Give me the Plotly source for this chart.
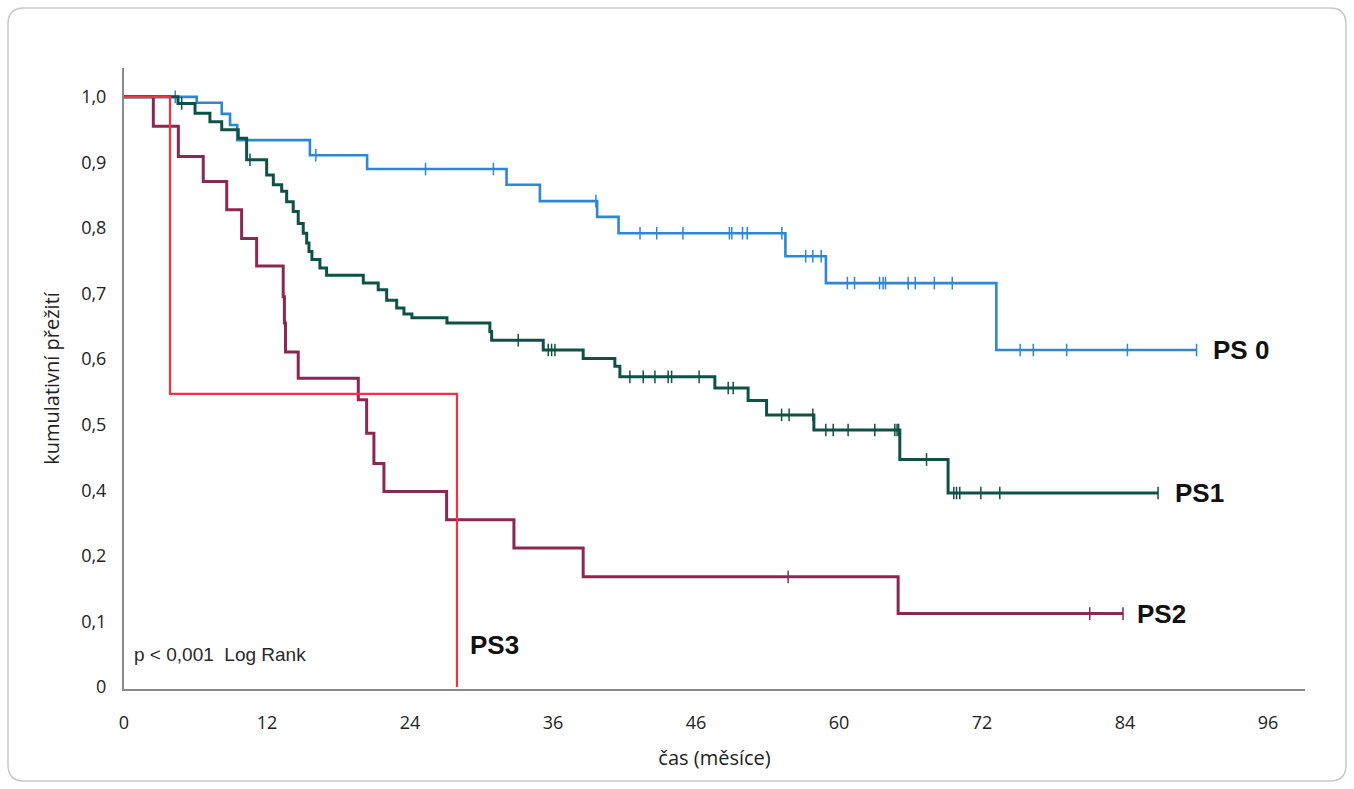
import numpy as np
import plotly.graph_objects as go

# ---------------- axis labels (as printed in the source) ----------------
x_tickvals = [0, 12, 24, 36, 48, 60, 72, 84, 96]
x_ticktext = ["0", "12", "24", "36", "46", "60", "72", "84", "96"]
y_tickvals = [0, 0.1, 0.2, 0.3, 0.4, 0.5, 0.6, 0.7, 0.8, 0.9]
y_ticktext = ["0", "0,1", "0,2", "0,4", "0,5", "0,6", "0,7", "0,8", "0,9", "1,0"]

# ---------------- Kaplan-Meier data (months, axis position) ----------------
start_value = 0.9

ps0_times = [6.1, 8.2, 8.9, 9.5, 15.6, 20.4, 32.1, 34.9, 39.7, 41.5, 55.5, 58.9, 73.2]
ps0_surv = [0.891, 0.874, 0.857, 0.834, 0.811, 0.790, 0.766, 0.741, 0.717, 0.692, 0.657, 0.616, 0.514]
ps0_censored = [4.3, 16.1, 25.3, 31.0, 39.6, 43.3, 44.7, 46.9, 50.8, 51.0, 51.9, 52.3, 55.2, 57.2,
                57.8, 58.5, 60.7, 61.3, 63.4, 63.7, 63.9, 65.8, 66.4, 68.0, 69.5, 75.2, 76.3, 79.1,
                84.2, 90.0]
ps0_end = 90.0

ps1_times = [4.53, 5.96, 7.21, 8.20, 9.59, 10.29, 11.97, 12.53, 13.23, 13.65, 14.20, 14.62, 15.04,
             15.33, 15.52, 15.77, 16.44, 17.00, 20.08, 21.33, 22.04, 22.88, 23.49, 24.16, 27.10,
             30.70, 30.85, 35.18, 38.53, 41.19, 41.61, 49.58, 52.37, 53.92, 57.89, 65.10, 69.15]
ps1_surv = [0.890, 0.875, 0.862, 0.850, 0.837, 0.804, 0.781, 0.766, 0.756, 0.740, 0.725, 0.707,
            0.692, 0.677, 0.664, 0.652, 0.639, 0.628, 0.616, 0.606, 0.590, 0.578, 0.569, 0.563,
            0.555, 0.542, 0.529, 0.514, 0.501, 0.489, 0.473, 0.456, 0.437, 0.415, 0.392, 0.347,
            0.296]
ps1_censored = [4.84, 10.57, 33.08, 35.6, 35.88, 36.16, 42.45, 43.57, 44.55, 45.66, 45.95, 48.26,
                50.70, 51.12, 55.18, 55.81, 57.8, 58.89, 59.51, 60.76, 63.0, 64.68, 64.87, 65.0,
                67.34, 69.63, 69.86, 70.13, 71.90, 73.49, 86.77]
ps1_end = 86.77

ps2_times = [2.46, 4.56, 6.65, 8.62, 9.87, 11.13, 13.36, 13.46, 13.55, 14.62, 19.66, 20.36, 20.97,
             21.81, 27.07, 32.72, 38.53, 64.96]
ps2_surv = [0.855, 0.809, 0.771, 0.728, 0.684, 0.642, 0.595, 0.555, 0.511, 0.471, 0.438, 0.387,
            0.341, 0.298, 0.255, 0.212, 0.168, 0.112]
ps2_censored = [55.73, 81.04, 83.83]
ps2_end = 83.83

ps3_times = [3.86, 27.94]
ps3_surv = [0.447, 0.0]
ps3_censored = []
ps3_end = 27.94

groups = [
    ("PS 0", ps0_times, ps0_surv, ps0_censored, ps0_end, "#2d87d3", 2.6),
    ("PS1", ps1_times, ps1_surv, ps1_censored, ps1_end, "#0e5247", 3.0),
    ("PS2", ps2_times, ps2_surv, ps2_censored, ps2_end, "#8c2754", 3.0),
    ("PS3", ps3_times, ps3_surv, ps3_censored, ps3_end, "#f2333f", 2.2),
]

fig = go.Figure()
for name, t, s, cens, end, color, w in groups:
    xs = [0] + list(t) + [end]
    ys = [start_value] + list(s) + [s[-1]]
    fig.add_trace(go.Scatter(x=xs, y=ys, mode="lines", line=dict(color=color, width=w, shape="hv"),
                             name=name, showlegend=False, hoverinfo="skip"))
    if cens:
        idx = np.searchsorted(np.array(t), np.array(cens), side="right")
        vals = np.concatenate([[start_value], np.array(s)])[idx]
        fig.add_trace(go.Scatter(x=cens, y=vals, mode="markers",
                                 marker=dict(symbol="line-ns", size=9,
                                             line=dict(color=color, width=1.5)),
                                 showlegend=False, hoverinfo="skip"))

label_font = dict(family="Liberation Sans, Arial, sans-serif", size=26, color="#111111")
fig.add_annotation(x=91.2, y=ps0_surv[-1], text="<b>PS 0</b>", showarrow=False, xanchor="left",
                   yanchor="middle", font=label_font)
fig.add_annotation(x=88.0, y=ps1_surv[-1], text="<b>PS1</b>", showarrow=False, xanchor="left",
                   yanchor="middle", font=label_font)
fig.add_annotation(x=84.8, y=ps2_surv[-1], text="<b>PS2</b>", showarrow=False, xanchor="left",
                   yanchor="middle", font=label_font)
fig.add_annotation(x=28.9, y=0.064, text="<b>PS3</b>", showarrow=False, xanchor="left",
                   yanchor="middle", font=label_font)
fig.add_annotation(x=0.7, y=0.049, text="p &lt; 0,001&nbsp;&nbsp;Log Rank", showarrow=False,
                   xanchor="left", yanchor="middle",
                   font=dict(family="Liberation Sans, Arial, sans-serif", size=19, color="#2a2a2a"))

# rounded outer frame (decoration), defined in pixels then converted to paper units
L, R, T, B = 124, 1305, 68, 689
def px(x):
    return (x - L) / (R - L)
def py(y):
    return (B - y) / (B - T)
fx0, fx1, fy0, fy1, rad = 8, 1346, 8, 781, 16
path = (f"M {px(fx0 + rad)},{py(fy0)} L {px(fx1 - rad)},{py(fy0)} "
        f"Q {px(fx1)},{py(fy0)} {px(fx1)},{py(fy0 + rad)} L {px(fx1)},{py(fy1 - rad)} "
        f"Q {px(fx1)},{py(fy1)} {px(fx1 - rad)},{py(fy1)} L {px(fx0 + rad)},{py(fy1)} "
        f"Q {px(fx0)},{py(fy1)} {px(fx0)},{py(fy1 - rad)} L {px(fx0)},{py(fy0 + rad)} "
        f"Q {px(fx0)},{py(fy0)} {px(fx0 + rad)},{py(fy0)} Z")
fig.add_shape(type="path", path=path, xref="paper", yref="paper",
              line=dict(color="#c9c9c9", width=1.5), layer="below")

tick_font = dict(family="Open Sans, sans-serif", size=18, color="#222222")
title_font = dict(family="Open Sans, sans-serif", size=20, color="#222222")
fig.update_layout(
    width=1354, height=789,
    margin=dict(l=L, r=1354 - R, t=T, b=789 - B),
    plot_bgcolor="white", paper_bgcolor="white",
    xaxis=dict(range=[0, 99.1], tickvals=x_tickvals, ticktext=x_ticktext, showgrid=False,
               zeroline=False, showline=True, linecolor="#8a8a8a", linewidth=2, ticks="",
               tickfont=tick_font, ticklabelstandoff=16,
               title=dict(text="čas (měsíce)", font=title_font, standoff=18)),
    yaxis=dict(range=[-0.003, 0.944], tickvals=y_tickvals, ticktext=y_ticktext, showgrid=False,
               zeroline=False, showline=True, linecolor="#8a8a8a", linewidth=2, ticks="",
               tickfont=tick_font, ticklabelstandoff=12,
               title=dict(text="kumulativní přežití", font=title_font, standoff=16)),
)

fig.write_html("out.html", config={"displayModeBar": False},
               post_script="document.body.style.margin='0';")
